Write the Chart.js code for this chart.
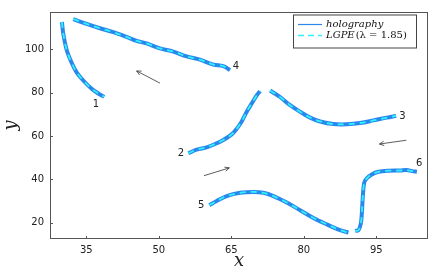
<!DOCTYPE html>
<html><head><meta charset="utf-8">
<script src="https://cdn.jsdelivr.net/npm/chart.js@4.4.0/dist/chart.umd.min.js"></script>
<style>html,body{margin:0;padding:0;background:#fff}#wrap{width:436px;height:273px}</style>
</head><body><div id="wrap"><canvas id="c" width="436" height="273"></canvas></div>
<script>
const xTicks = [35, 50, 65, 80, 95];
const yTicks = [20, 40, 60, 80, 100];
const c1x = [29.97, 30.24, 30.94, 31.98, 33.01, 34.38, 36.12, 37.49, 38.73];
const c1y = [112.6, 107.3, 99.8, 93.8, 89.35, 85.6, 81.8, 79.6, 78.1];
const c4x = [32.31, 35.07, 37.83, 40.59, 43.35, 45.42, 47.49, 50.25, 53.01, 55.77, 58.53, 61.29, 63.36, 64.74];
const c4y = [113.9, 111.7, 109.7, 107.9, 105.7, 103.9, 102.7, 100.4, 98.95, 96.7, 95.2, 92.96, 92.2, 90.4];
const c2x = [56.12, 57.84, 59.91, 61.64, 63.36, 65.09, 66.12, 67.16, 68.2, 69.23, 70.27, 70.96];
const c2y = [52.06, 53.7, 54.8, 56.3, 58.2, 60.75, 63.3, 66.7, 71.2, 75.0, 78.7, 80.7];
const c3x = [73.03, 75.1, 77.17, 79.24, 81.31, 83.38, 86.14, 88.9, 91.66, 94.42, 97.18, 99.11];
const c3y = [80.97, 78.0, 74.2, 71.2, 68.5, 66.7, 65.5, 65.4, 66.0, 67.2, 68.5, 69.3];
const c5x = [60.47, 61.98, 64.05, 66.81, 69.58, 71.65, 73.72, 76.48, 79.24, 82.0, 84.76, 87.52, 89.24];
const c5y = [28.1, 30.0, 32.3, 33.8, 34.2, 33.8, 32.3, 29.3, 25.8, 22.2, 19.25, 16.55, 15.5];
const c6x = [90.62, 91.31, 91.8, 92.0, 92.2, 92.49, 93.04, 94.07, 95.45, 97.53, 99.94, 101.3, 102.4, 103.4];
const c6y = [16.25, 16.55, 19.55, 24.0, 31.5, 38.3, 40.5, 42.3, 43.5, 44.0, 44.1, 44.3, 43.8, 43.5];
const curveLabels = ['1', '2', '3', '4', '5', '6'];
const labelX = [37.0, 54.6, 100.4, 65.95, 58.8, 103.9];
const labelY = [74.65, 52.0, 69.0, 92.0, 28.2, 47.5];
const arrowX0 = [50.25, 101.2, 59.36];
const arrowY0 = [84.4, 58.05, 41.7];
const arrowX1 = [45.42, 95.66, 64.6];
const arrowY1 = [90.0, 56.3, 45.3];
const seriesNames = ['holography', 'LGPE(\u03bb = 1.85)'];

const curves = [[c1x,c1y],[c2x,c2y],[c3x,c3y],[c4x,c4y],[c5x,c5y],[c6x,c6y]];
const BLUE = '#2a88ec', CYAN = '#2ef2ff';
const datasets = [];
curves.forEach(([xs, ys]) => {
  const pts = xs.map((x, i) => ({x, y: ys[i]}));
  datasets.push({label: seriesNames[0], data: pts, borderColor: BLUE, borderWidth: 4, pointRadius: 0, tension: 0.35, order: 2, borderCapStyle: 'butt'});
  datasets.push({label: seriesNames[1], data: pts, borderColor: CYAN, borderWidth: 1.8, borderDash: [6, 5], pointRadius: 0, tension: 0.35, order: 1});
});

const deco = {
  id: 'deco',
  afterDraw(chart) {
    const {ctx, chartArea: a, scales: {x, y}} = chart;
    ctx.save();
    ctx.strokeStyle = '#555';
    ctx.lineWidth = 1;
    ctx.strokeRect(a.left + 0.5, a.top + 0.5, a.right - a.left - 1, a.bottom - a.top - 1);
    ctx.beginPath();
    xTicks.forEach(t => { const px = Math.round(x.getPixelForValue(t)) + 0.5; ctx.moveTo(px, a.bottom); ctx.lineTo(px, a.bottom - 3); });
    yTicks.forEach(t => { const py = Math.round(y.getPixelForValue(t)) + 0.5; ctx.moveTo(a.left, py); ctx.lineTo(a.left + 3, py); });
    ctx.stroke();
    // arrows
    ctx.strokeStyle = '#333'; ctx.lineWidth = 0.8;
    arrowX0.forEach((_, i) => {
      const x0 = x.getPixelForValue(arrowX0[i]), y0 = y.getPixelForValue(arrowY0[i]);
      const x1 = x.getPixelForValue(arrowX1[i]), y1 = y.getPixelForValue(arrowY1[i]);
      const ang = Math.atan2(y1 - y0, x1 - x0);
      ctx.beginPath(); ctx.moveTo(x0, y0); ctx.lineTo(x1, y1);
      ctx.moveTo(x1 - 5 * Math.cos(ang - 0.45), y1 - 5 * Math.sin(ang - 0.45));
      ctx.lineTo(x1, y1);
      ctx.lineTo(x1 - 5 * Math.cos(ang + 0.45), y1 - 5 * Math.sin(ang + 0.45));
      ctx.stroke();
    });
    // curve labels
    ctx.fillStyle = '#222'; ctx.font = '10px "DejaVu Sans"'; ctx.textAlign = 'center'; ctx.textBaseline = 'middle';
    curveLabels.forEach((l, i) => ctx.fillText(l, x.getPixelForValue(labelX[i]), y.getPixelForValue(labelY[i])));
    // legend
    const lx = 293, ly = 14.5, lw = 123, lh = 33;
    ctx.fillStyle = '#fff'; ctx.fillRect(lx, ly, lw, lh);
    ctx.strokeStyle = '#444'; ctx.lineWidth = 1; ctx.strokeRect(lx + 0.5, ly + 0.5, lw, lh);
    ctx.lineWidth = 1.2; ctx.strokeStyle = BLUE;
    ctx.beginPath(); ctx.moveTo(298, 24.5); ctx.lineTo(322, 24.5); ctx.stroke();
    ctx.strokeStyle = CYAN; ctx.lineWidth = 1.5; ctx.setLineDash([6, 4]);
    ctx.beginPath(); ctx.moveTo(298, 35.5); ctx.lineTo(322, 35.5); ctx.stroke();
    ctx.setLineDash([]);
    ctx.fillStyle = '#111'; ctx.textAlign = 'left';
    ctx.font = 'italic 10px "DejaVu Serif"';
    ctx.fillText(seriesNames[0], 326, 24.5);
    ctx.fillText('LGPE', 326, 35.5);
    const w1 = ctx.measureText('LGPE').width;
    ctx.font = '10px "DejaVu Serif"';
    ctx.fillText('(\u03bb = 1.85)', 326 + w1 + 1, 35.5);
    // axis titles
    ctx.fillStyle = '#222';
    ctx.font = 'italic 18px "DejaVu Serif"'; ctx.textAlign = 'center';
    ctx.fillText('x', (a.left + a.right) / 2, 261);
    ctx.translate(11, (a.top + a.bottom) / 2);
    ctx.rotate(-Math.PI / 2);
    ctx.fillText('y', 0, 0);
    ctx.restore();
  }
};

new Chart(document.getElementById('c'), {
  type: 'line',
  data: {datasets},
  options: {
    responsive: false, animation: false,
    layout: {padding: {top: 6, right: 8, left: 0, bottom: 0}},
    plugins: {legend: {display: false}, tooltip: {enabled: false}},
    scales: {
      x: {
        type: 'linear', min: 27.5, max: 105.7,
        afterBuildTicks: s => { s.ticks = xTicks.map(v => ({value: v})); },
        afterFit: s => { s.height = 34; },
        grid: {display: false, drawTicks: false}, border: {display: false},
        ticks: {color: '#222', font: {family: 'DejaVu Sans', size: 10}, padding: 5, maxRotation: 0}
      },
      y: {
        type: 'linear', min: 12.5, max: 117.2,
        afterBuildTicks: s => { s.ticks = yTicks.map(v => ({value: v})); },
        afterFit: s => { s.width = 50; },
        grid: {display: false, drawTicks: false}, border: {display: false},
        ticks: {color: '#222', font: {family: 'DejaVu Sans', size: 10}, padding: 6}
      }
    }
  },
  plugins: [deco]
});
</script></body></html>
